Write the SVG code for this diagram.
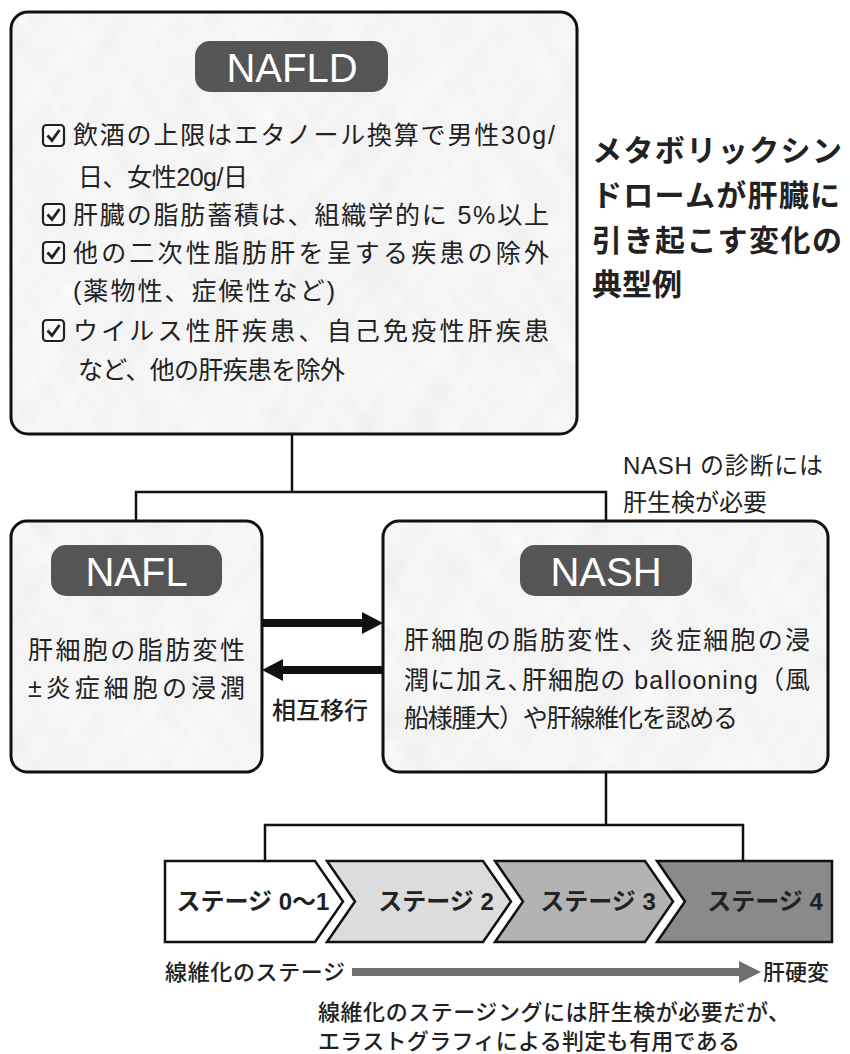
<svg xmlns="http://www.w3.org/2000/svg" width="850" height="1054" viewBox="0 0 850 1054">
<defs>
<filter id="tex" x="0" y="0" width="1" height="1" filterUnits="objectBoundingBox">
<feTurbulence type="fractalNoise" baseFrequency="0.05 0.008" numOctaves="3" seed="7"/>
<feColorMatrix type="matrix" values="0.16 0 0 0 0.83  0.16 0 0 0 0.83  0.16 0 0 0 0.83  0 0 0 0 1"/>
</filter>
<clipPath id="cNafld"><rect x="11" y="12" width="566" height="422" rx="17"/></clipPath>
<clipPath id="cNafl"><rect x="11" y="521" width="251" height="251" rx="16"/></clipPath>
<clipPath id="cNash"><rect x="383" y="521" width="445" height="251" rx="16"/></clipPath>
<g id="chk">
<rect x="0" y="0" width="21" height="21" rx="3.5" fill="#fbfbfb" stroke="#222" stroke-width="2.2"/>
<polyline points="4.5,10.5 9,15.5 16.5,5" fill="none" stroke="#222" stroke-width="2.8" stroke-linejoin="miter"/>
</g>
</defs>
<style>
text{font-family:"Liberation Sans","Noto Sans CJK JP",sans-serif;fill:#222}
.frame{fill:none;stroke:#111;stroke-width:3}
.pill{fill:#555556}
.pt{fill:#fff;font-size:40px;text-anchor:middle}
.li{font-size:25px}
.body{font-size:25px}
.ttl{font-size:30px;font-weight:bold}
.note{font-size:24px}
.stg{font-size:24px;font-weight:bold;text-anchor:middle}
.med{font-size:22px;font-weight:500}
.conn{fill:none;stroke:#111;stroke-width:2.5}
.stage{stroke:#111;stroke-width:2.5;stroke-linejoin:miter}
</style>
<rect width="850" height="1054" fill="#fff"/>

<g id="connectors">
<polyline class="conn" points="292,434 292,492"/>
<polyline class="conn" points="136,521 136,492 606,492 606,521"/>
<polyline class="conn" points="606,772 606,825"/>
<polyline class="conn" points="265,861 265,825 743,825 743,861"/>
<g id="arrow-right">
<rect x="262" y="619" width="103" height="8" fill="#111"/>
<polygon points="362,612 383,623 362,634" fill="#111"/>
</g>
<g id="arrow-left">
<rect x="280" y="666" width="103" height="8" fill="#111"/>
<polygon points="283,659 262,670 283,681" fill="#111"/>
</g>
<text x="272" y="719" style="font-size:24px;font-weight:500">相互移行</text>
<g id="fibrosis-arrow">
<rect x="352" y="968" width="390" height="8" fill="#6e6e6e"/>
<polygon points="739,961 761,972 739,983" fill="#6e6e6e"/>
</g>
</g>

<g id="nafld">
<g clip-path="url(#cNafld)">
<rect x="-106" y="-177" width="800" height="800" filter="url(#tex)" transform="rotate(-35 294 223)"/>
<rect x="-106" y="-177" width="800" height="800" filter="url(#tex)" opacity="0.5" transform="rotate(35 294 223)"/>
</g>
<rect class="frame" x="11" y="12" width="566" height="422" rx="17"/>
<rect class="pill" x="195" y="41" width="193" height="51" rx="15"/>
<text class="pt" x="292" y="82">NAFLD</text>
<use href="#chk" x="43" y="125"/>
<text class="li" x="73" y="144" textLength="482" lengthAdjust="spacing">飲酒の上限はエタノール換算で男性30g/</text>
<text class="li" x="78" y="186" textLength="170" lengthAdjust="spacing">日、女性20g/日</text>
<use href="#chk" x="43" y="204"/>
<text class="li" x="73" y="224" textLength="476" lengthAdjust="spacing">肝臓の脂肪蓄積は、組織学的に 5%以上</text>
<use href="#chk" x="43" y="242"/>
<text class="li" x="73" y="262" textLength="476" lengthAdjust="spacing">他の二次性脂肪肝を呈する疾患の除外</text>
<text class="li" x="73" y="300" textLength="262" lengthAdjust="spacing">(薬物性、症候性など)</text>
<use href="#chk" x="43" y="320"/>
<text class="li" x="73" y="340" textLength="476" lengthAdjust="spacing">ウイルス性肝疾患、自己免疫性肝疾患</text>
<text class="li" x="78" y="379" textLength="267" lengthAdjust="spacing">など、他の肝疾患を除外</text>
</g>

<g id="title">
<text class="ttl" x="592" y="161" textLength="250" lengthAdjust="spacing">メタボリックシン</text>
<text class="ttl" x="592" y="206" textLength="248" lengthAdjust="spacing">ドロームが肝臓に</text>
<text class="ttl" x="592" y="251" textLength="250" lengthAdjust="spacing">引き起こす変化の</text>
<text class="ttl" x="592" y="295">典型例</text>
</g>

<g id="nash-note">
<text class="note" x="623" y="474" textLength="200" lengthAdjust="spacing">NASH の診断には</text>
<text class="note" x="623" y="511">肝生検が必要</text>
</g>

<g id="nafl">
<g clip-path="url(#cNafl)">
<rect x="-263" y="246" width="800" height="800" filter="url(#tex)" transform="rotate(-35 137 646)"/>
<rect x="-263" y="246" width="800" height="800" filter="url(#tex)" opacity="0.5" transform="rotate(35 137 646)"/>
</g>
<rect class="frame" x="11" y="521" width="251" height="251" rx="16"/>
<rect class="pill" x="51" y="545" width="171" height="51" rx="15"/>
<text class="pt" x="136.5" y="586">NAFL</text>
<text class="body" x="28" y="659" textLength="217" lengthAdjust="spacing">肝細胞の脂肪変性</text>
<text class="body" x="28" y="697" textLength="217" lengthAdjust="spacing">±炎症細胞の浸潤</text>
</g>

<g id="nash">
<g clip-path="url(#cNash)">
<rect x="206" y="246" width="800" height="800" filter="url(#tex)" transform="rotate(-35 606 646)"/>
<rect x="206" y="246" width="800" height="800" filter="url(#tex)" opacity="0.5" transform="rotate(35 606 646)"/>
</g>
<rect class="frame" x="383" y="521" width="445" height="251" rx="16"/>
<rect class="pill" x="520" y="545" width="172" height="51" rx="15"/>
<text class="pt" x="606" y="586">NASH</text>
<text class="body" x="404" y="649" textLength="406" lengthAdjust="spacing">肝細胞の脂肪変性、炎症細胞の浸</text>
<text class="body" x="404" y="689" textLength="406" lengthAdjust="spacing">潤に加え､肝細胞の ballooning（風</text>
<text class="body" x="404" y="727" textLength="334" lengthAdjust="spacing">船様腫大）や肝線維化を認める</text>
</g>

<g id="stage1">
<path class="stage" fill="#ffffff" d="M165,861 H315 L343,901.5 L315,942 H165 Z"/>
<text class="stg" x="253" y="910">ステージ 0〜1</text>
</g>
<g id="stage2">
<path class="stage" fill="#dcdcdc" d="M327,861 H483 L511,901.5 L483,942 H327 L355,901.5 Z"/>
<text class="stg" x="436" y="910">ステージ 2</text>
</g>
<g id="stage3">
<path class="stage" fill="#b3b3b3" d="M495,861 H645 L673,901.5 L645,942 H495 L523,901.5 Z"/>
<text class="stg" x="598" y="910">ステージ 3</text>
</g>
<g id="stage4">
<path class="stage" fill="#8a8a8a" d="M657,861 H832 V942 H657 L685,901.5 Z"/>
<text class="stg" x="765" y="910">ステージ 4</text>
</g>

<g id="fibrosis-labels">
<text class="med" x="165" y="980" textLength="180" lengthAdjust="spacing">線維化のステージ</text>
<text class="med" x="763" y="980">肝硬変</text>
</g>

<g id="footnote">
<text class="med" x="318" y="1020" textLength="472" lengthAdjust="spacing">線維化のステージングには肝生検が必要だが、</text>
<text class="med" x="318" y="1049" textLength="422" lengthAdjust="spacing">エラストグラフィによる判定も有用である</text>
</g>
</svg>
